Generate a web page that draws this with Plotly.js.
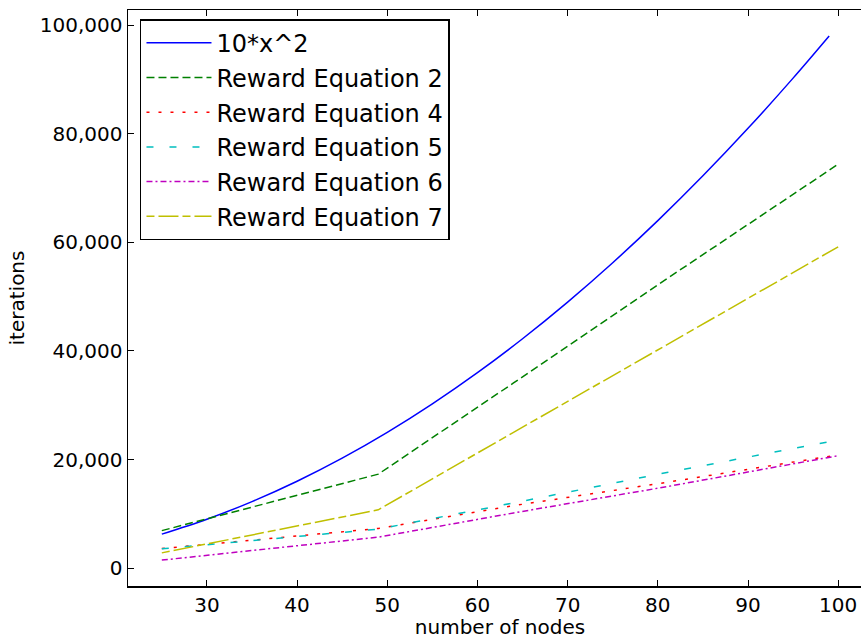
<!DOCTYPE html>
<html>
<head>
<meta charset="utf-8">
<script src="https://cdn.plot.ly/plotly-3.0.1.min.js"></script>
<style>
html, body { margin: 0; padding: 0; overflow: hidden; background: #fff; }
#chart { width: 880px; height: 639px; }
</style>
</head>
<body>
<div id="chart"></div>
<script>
// Reference curve 10*x^2
const quadX = [25, 30, 35, 40, 45, 50, 55, 60, 65, 70, 75, 80, 85, 90, 95, 99];
const quadY = [6250, 9000, 12250, 16000, 20250, 25000, 30250, 36000, 42250, 49000, 56250, 64000, 72250, 81000, 90250, 98010];

// Reward equation series
const nodes = [25, 36, 49, 64, 81, 100];
const reward2 = [6900, 11700, 17300, 34100, 53300, 74400];
const reward4 = [3600, 5300, 7300, 11500, 15800, 20850];
const reward5 = [3550, 5200, 7180, 12000, 17600, 23600];
const reward6 = [1470, 3400, 5700, 10150, 15000, 20700];
const reward7 = [2800, 6400, 10730, 25000, 41100, 59180];

const names = ["10*x^2", "Reward Equation 2", "Reward Equation 4", "Reward Equation 5", "Reward Equation 6", "Reward Equation 7"];
const colors = ["#0000ff", "#008000", "#ff0000", "#00bfbf", "#bf00bf", "#bfbf00"];
const dashes = ["solid", "8px,4px", "3px,9px", "7px,16px", "6px,3px,2px,3px", "8px,4px,20px,4px"];

const seriesX = [quadX, nodes, nodes, nodes, nodes, nodes];
const seriesY = [quadY, reward2, reward4, reward5, reward6, reward7];

const traces = seriesY.map((ys, i) => ({
  x: seriesX[i],
  y: ys,
  type: "scatter",
  mode: "lines",
  name: names[i],
  legendgroup: "g" + i,
  line: { color: colors[i], width: 1.5, dash: dashes[i], shape: i === 0 ? "spline" : "linear" }
}));

const font = "DejaVu Sans, sans-serif";

const layout = {
  width: 880,
  height: 639,
  margin: { l: 128, r: 8, t: 10, b: 53 },
  paper_bgcolor: "#ffffff",
  plot_bgcolor: "#ffffff",
  font: { family: font, size: 20, color: "#000" },
  showlegend: true,
  legend: {
    x: 0.0161, y: 0.984, xanchor: "left", yanchor: "top",
    bgcolor: "#ffffff", bordercolor: "#000000", borderwidth: 1.5,
    font: { family: font, size: 24, color: "#000" },
    traceorder: "grouped", tracegroupgap: 0.5,
    itemwidth: 65
  },
  xaxis: {
    range: [21.25, 103.75],
    tickvals: [30, 40, 50, 60, 70, 80, 90, 100],
    ticks: "inside", ticklen: 6, tickwidth: 1, tickcolor: "#000",
    showline: true, linecolor: "#000", linewidth: 1.5, mirror: "ticks",
    showgrid: false, zeroline: false,
    tickfont: { family: font, size: 20, color: "#000" },
    title: { text: "number of nodes", font: { family: font, size: 20, color: "#000" }, standoff: 12 }
  },
  yaxis: {
    range: [-3300, 102800],
    tickvals: [0, 20000, 40000, 60000, 80000, 100000],
    tickformat: ",d",
    ticks: "inside", ticklen: 6, tickwidth: 1, tickcolor: "#000",
    showline: true, linecolor: "#000", linewidth: 1.5, mirror: "ticks",
    showgrid: false, zeroline: false,
    tickfont: { family: font, size: 20, color: "#000" },
    title: { text: "iterations", font: { family: font, size: 20, color: "#000" }, standoff: 10 }
  }
};

Plotly.newPlot("chart", traces, layout, { displayModeBar: false, staticPlot: true });
</script>
</body>
</html>
